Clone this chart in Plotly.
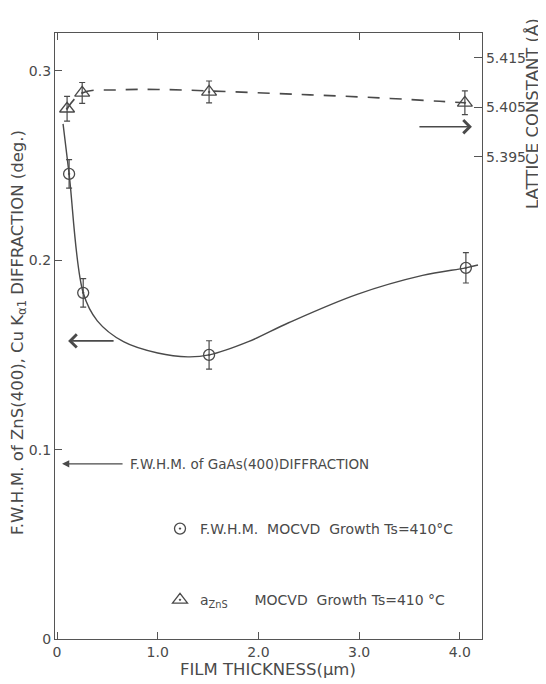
import plotly.graph_objects as go

# ---- data ----
fwhm_thickness = [0.12, 0.26, 1.51, 4.06]          # µm
fwhm_values = [0.2456, 0.1828, 0.1500, 0.1960]     # deg
fwhm_err = [0.0075, 0.0075, 0.0075, 0.0080]

lattice_thickness = [0.10, 0.25, 1.51, 4.05]       # µm
lattice_values = [5.4047, 5.4079, 5.4081, 5.4059]  # Å
lattice_err = [0.0025, 0.0021, 0.0022, 0.0024]

# hand-drawn guide curves
fwhm_curve_x = [0.06, 0.12, 0.26, 0.40, 0.66, 1.00, 1.30, 1.51, 1.90, 2.30, 2.98, 3.63, 4.06, 4.18]
fwhm_curve_y = [0.272, 0.2456, 0.1828, 0.168, 0.157, 0.151, 0.149, 0.150, 0.157, 0.167, 0.182, 0.192, 0.196, 0.1975]

lattice_curve_x = [0.10, 0.25, 0.60, 1.00, 1.51, 2.40, 3.20, 3.80, 4.05]
lattice_curve_y = [5.4047, 5.4079, 5.4085, 5.4086, 5.4083, 5.4076, 5.4069, 5.4062, 5.4059]

x_tickvals = [0, 1, 2, 3, 4]
x_ticktext = ["0", "1.0", "2.0", "3.0", "4.0"]
y_tickvals = [0, 0.1, 0.2, 0.3]
y_ticktext = ["0", "0.1", "0.2", "0.3"]
y2_tickvals = [5.395, 5.405, 5.415]
y2_ticktext = ["5.395", "5.405", "5.415"]

gaas_fwhm = 0.0925

INK = "#4a4a4a"
FONT = "DejaVu Sans"

# plot area in page pixels (page has an 8px body margin)
L, R, T, B = 55, 482, 33, 639
W, H = 538, 676
OFF = 8

fig = go.Figure()

# guide curves
fig.add_trace(go.Scatter(
    x=fwhm_curve_x, y=fwhm_curve_y, mode="lines",
    line=dict(color=INK, width=1.4, shape="spline", smoothing=1.0),
    showlegend=False, hoverinfo="skip"))
fig.add_trace(go.Scatter(
    x=lattice_curve_x, y=lattice_curve_y, mode="lines", yaxis="y2",
    line=dict(color=INK, width=1.6, shape="spline", smoothing=1.0, dash="12px,10px"),
    showlegend=False, hoverinfo="skip"))

# data points
fig.add_trace(go.Scatter(
    x=fwhm_thickness, y=fwhm_values, mode="markers",
    name="F.W.H.M.  MOCVD  Growth Ts=410°C", legendgroup="a",
    marker=dict(symbol="circle-open-dot", size=11, color=INK, line=dict(width=1.3, color=INK)),
    error_y=dict(type="data", array=fwhm_err, color=INK, thickness=1.2, width=3)))
fig.add_trace(go.Scatter(
    x=lattice_thickness, y=lattice_values, mode="markers", yaxis="y2",
    name="a<sub>ZnS</sub>      MOCVD  Growth Ts=410 °C", legendgroup="b",
    marker=dict(symbol="triangle-up-open-dot", size=13, color=INK, line=dict(width=1.3, color=INK)),
    error_y=dict(type="data", array=lattice_err, color=INK, thickness=1.2, width=3)))

axis_common = dict(showline=True, linecolor="#555", linewidth=1.3, ticks="inside",
                   tickcolor="#555", tickwidth=1.2, showgrid=False, zeroline=False,
                   tickfont=dict(family=FONT, size=14, color=INK))

PW, PH = R - L, B - T


def px(xp):
    return (xp - L) / PW


def py(yp):
    return (B - yp) / PH


fig.update_layout(
    width=W, height=H,
    margin=dict(l=L - OFF, r=W - (R - OFF), t=T - OFF, b=H - (B - OFF)),
    paper_bgcolor="white", plot_bgcolor="white",
    font=dict(family=FONT, color=INK),
    xaxis=dict(range=[-0.02, 4.22], tickvals=x_tickvals, ticktext=x_ticktext,
               ticklen=7, mirror="ticks", **axis_common),
    yaxis=dict(range=[0, 0.32], tickvals=y_tickvals, ticktext=y_ticktext,
               ticklen=7, **axis_common),
    yaxis2=dict(range=[5.2976, 5.4200], tickvals=y2_tickvals, ticktext=y2_ticktext,
                overlaying="y", side="right", ticklen=8, **axis_common),
    legend=dict(x=px(160), y=py(513), xanchor="left", yanchor="top",
                bgcolor="rgba(0,0,0,0)", tracegroupgap=50,
                font=dict(family=FONT, size=14, color=INK), itemsizing="trace"),
    showlegend=True,
)

# axis titles
fig.add_annotation(text="FILM THICKNESS(μm)", xref="paper", yref="paper",
                   x=px(268), y=py(670), xanchor="center", yanchor="middle", showarrow=False,
                   font=dict(family=FONT, size=16.5, color=INK))
fig.add_annotation(text="F.W.H.M. of ZnS(400), Cu K<sub>α1</sub> DIFFRACTION (deg.)",
                   xref="paper", yref="paper", x=px(18), y=py(333),
                   xanchor="center", yanchor="middle",
                   textangle=-90, showarrow=False,
                   font=dict(family=FONT, size=16.5, color=INK))
fig.add_annotation(text="LATTICE CONSTANT (Å)", xref="paper", yref="paper",
                   x=px(532), y=py(114), xanchor="center", yanchor="middle",
                   textangle=-90, showarrow=False,
                   font=dict(family=FONT, size=16.5, color=INK))

# arrows indicating which axis each curve uses
fig.add_annotation(x=4.12, y=0.2705, xref="x", yref="y", ax=-54, ay=0,
                   axref="pixel", ayref="pixel", text="", showarrow=True,
                   arrowhead=4, arrowsize=1.6, arrowwidth=1.6, arrowcolor=INK)
fig.add_annotation(x=0.11, y=0.1574, xref="x", yref="y", ax=47, ay=0,
                   axref="pixel", ayref="pixel", text="", showarrow=True,
                   arrowhead=4, arrowsize=1.6, arrowwidth=1.6, arrowcolor=INK)

# GaAs reference level
fig.add_annotation(x=0.05, y=gaas_fwhm, xref="x", yref="y", ax=62, ay=0,
                   axref="pixel", ayref="pixel", text="", showarrow=True,
                   arrowhead=2, arrowsize=1.2, arrowwidth=1.2, arrowcolor=INK)
fig.add_annotation(x=0.05, y=gaas_fwhm, xref="x", yref="y", xshift=66, xanchor="left",
                   yanchor="middle",
                   text="F.W.H.M. of GaAs(400)DIFFRACTION", showarrow=False,
                   font=dict(family=FONT, size=13.5, color=INK))

fig.write_html("out.html")
